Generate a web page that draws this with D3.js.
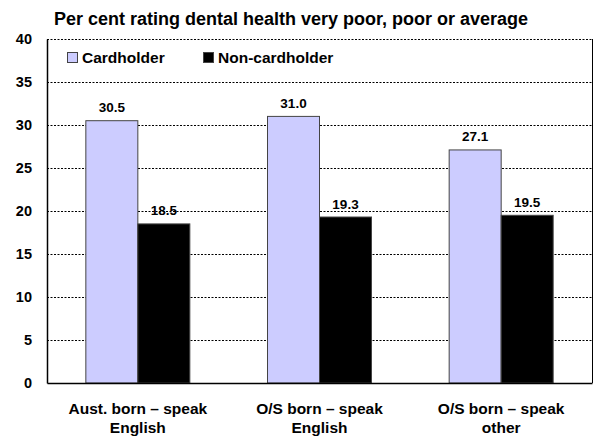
<!DOCTYPE html>
<html><head><meta charset="utf-8">
<script src="https://cdn.jsdelivr.net/npm/d3@7"></script>
<style>body{margin:0;background:#fff}text{font-family:"Liberation Sans",Arial,sans-serif;font-weight:bold}</style>
</head><body>
<svg id="c" width="596" height="437"></svg>
<script>
const categories = [["Aust. born \u2013 speak","English"],["O/S born \u2013 speak","English"],["O/S born \u2013 speak","other"]];
const seriesNames = ["Cardholder","Non-cardholder"];
const cardholder = [30.5, 31.0, 27.1];
const nonCardholder = [18.5, 19.3, 19.5];
const yTicks = [0,5,10,15,20,25,30,35,40];
const title = "Per cent rating dental health very poor, poor or average";

const svg = d3.select("#c");
const m = {l:47, r:592, t:39, b:383};
const colors = ["#ccccff","#000000"];
const x0 = d3.scaleBand().domain(d3.range(3)).range([m.l, m.r]).paddingInner(0).paddingOuter(0);
const x1 = d3.scaleBand().domain([0,1]).range([0, 104]);
const y = d3.scaleLinear().domain([0,40]).range([m.b, m.t]);

svg.append("text").attr("x", 291).attr("y", 25).attr("text-anchor","middle").attr("font-size",18).text(title);

// gridlines
svg.append("g").selectAll("line").data(yTicks.filter(d=>d>0)).join("line")
  .attr("x1", m.l).attr("x2", m.r).attr("y1", d=>y(d)+0.5).attr("y2", d=>y(d)+0.5)
  .attr("stroke","#000").attr("stroke-width",1).attr("stroke-dasharray","2,1.5");

// right border
svg.append("line").attr("x1", m.r+0.5).attr("x2", m.r+0.5).attr("y1", m.t).attr("y2", m.b).attr("stroke","#000");

const vals = [cardholder, nonCardholder];
const g = svg.append("g");
categories.forEach((c,i)=>{
  const cx = x0(i) + x0.bandwidth()/2 - 52;
  vals.forEach((arr,s)=>{
    const v = arr[i];
    g.append("rect").attr("x", cx + x1(s)).attr("y", y(v)).attr("width", x1.bandwidth()).attr("height", y(0)-y(v))
      .attr("fill", colors[s]).attr("stroke", "#444").attr("stroke-width", 1);
    g.append("text").attr("x", cx + x1(s) + x1.bandwidth()/2).attr("y", y(v)-8.5).attr("text-anchor","middle")
      .attr("font-size",13.5).text(v.toFixed(1));
  });
});

// axes
const ya = svg.append("g").attr("transform",`translate(${m.l},0)`).call(d3.axisLeft(y).tickValues(yTicks).tickSize(0).tickPadding(15));
ya.select(".domain").attr("stroke","#000").attr("stroke-width",1.5);
ya.selectAll("text").attr("font-size",14.5).attr("font-family","Liberation Sans, Arial").attr("font-weight","bold").attr("fill","#000");
const xa = svg.append("g").attr("transform",`translate(0,${m.b})`).call(d3.axisBottom(x0).tickSize(0).tickFormat(""));
xa.select(".domain").attr("stroke","#000").attr("stroke-width",1.5);
categories.forEach((c,i)=>{
  const t = svg.append("text").attr("x", x0(i)+x0.bandwidth()/2).attr("text-anchor","middle").attr("font-size",15.5);
  c.forEach((line,k)=>t.append("tspan").attr("x", x0(i)+x0.bandwidth()/2).attr("y", 414 + k*19).text(line));
});

// legend
const lx = [67, 203];
seriesNames.forEach((n,s)=>{
  svg.append("rect").attr("x", lx[s]+0.5).attr("y", 52.5).attr("width", 10).attr("height", 10).attr("fill", colors[s]).attr("stroke","#444");
  svg.append("text").attr("x", lx[s]+15).attr("y", 63).attr("font-size",15.5).text(n);
});
</script>
</body></html>
